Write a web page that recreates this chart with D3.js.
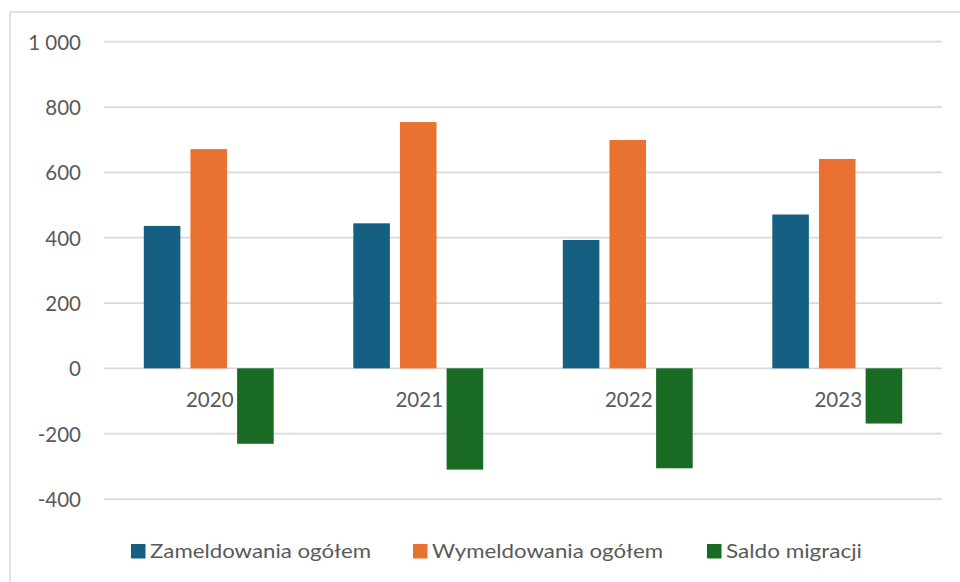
<!DOCTYPE html>
<html>
<head>
<meta charset="utf-8">
<script src="https://cdn.jsdelivr.net/npm/d3@7"></script>
<style>
  body { margin: 0; background: #fff; }
  svg text { font-family: Lato, "Open Sans", sans-serif; fill: #595959; }
</style>
</head>
<body>
<div id="viz"></div>
<script>
// data
var years = ["2020", "2021", "2022", "2023"];
var seriesNames = ["Zameldowania ogółem", "Wymeldowania ogółem", "Saldo migracji"];
var zameldowania = [436, 444, 393, 471];
var wymeldowania = [671, 754, 699, 641];
var saldo = [-231, -310, -306, -169];
var yTicks = [-400, -200, 0, 200, 400, 600, 800, 1000];

var colors = ["#156082", "#E97132", "#196B24"];
var seriesValues = [zameldowania, wymeldowania, saldo];

var width = 960, height = 582;
var svg = d3.select("#viz").append("svg")
  .attr("width", width)
  .attr("height", height);

// chart frame (only top and left edges visible)
svg.append("path")
  .attr("d", "M10,582 L10,12 L960,12")
  .attr("fill", "none")
  .attr("stroke", "#D9D9D9")
  .attr("stroke-width", 1.5);

var y = d3.scaleLinear().domain([-400, 1000]).range([499, 41.7]);
var x0 = d3.scaleBand().domain(years).range([104, 942])
  .paddingInner(0.38).paddingOuter(0.19);
var x1 = d3.scaleBand().domain(d3.range(3)).range([0, x0.bandwidth()])
  .paddingInner(0.216);

// gridlines
svg.append("g").selectAll("line")
  .data(yTicks)
  .join("line")
  .attr("x1", 104).attr("x2", 942)
  .attr("y1", function (d) { return y(d); })
  .attr("y2", function (d) { return y(d); })
  .attr("stroke", "#D9D9D9")
  .attr("stroke-width", 1.75);

// y labels, space as thousands separator, plain hyphen for minus
var fmt = function (d) {
  return d3.format(",")(d).replace(",", " ").replace("\u2212", "-");
};
svg.append("g").selectAll("text")
  .data(yTicks)
  .join("text")
  .attr("x", 81)
  .attr("y", function (d) { return y(d) + 8; })
  .attr("text-anchor", "end")
  .style("font-size", "20.5px")
  .text(fmt);

// category labels
svg.append("g").selectAll("text")
  .data(years)
  .join("text")
  .attr("x", function (d) { return x0(d) + x0.bandwidth() / 2 + 1; })
  .attr("y", y(0) + 39)
  .attr("text-anchor", "middle")
  .style("font-size", "20.5px")
  .text(function (d) { return d; });

// bars
var rows = [];
years.forEach(function (yr, i) {
  seriesValues.forEach(function (vals, s) {
    rows.push({ year: yr, s: s, v: vals[i] });
  });
});

svg.append("g").selectAll("rect")
  .data(rows)
  .join("rect")
  .attr("x", function (d) { return x0(d.year) + x1(d.s); })
  .attr("width", x1.bandwidth())
  .attr("y", function (d) { return y(Math.max(0, d.v)); })
  .attr("height", function (d) { return Math.abs(y(d.v) - y(0)); })
  .attr("fill", function (d) { return colors[d.s]; });

// legend (text fitted to the widths of the original font)
var legendX = [131, 413, 707];
var legendW = [221, 231, 136];
var leg = svg.append("g").selectAll("g")
  .data(seriesNames)
  .join("g")
  .attr("transform", function (d, i) { return "translate(" + legendX[i] + ",0)"; });
leg.append("rect")
  .attr("x", 0).attr("y", 544)
  .attr("width", 14.5).attr("height", 14.5)
  .attr("fill", function (d, i) { return colors[i]; });
leg.append("text")
  .attr("x", 19)
  .attr("y", 558)
  .attr("textLength", function (d, i) { return legendW[i]; })
  .attr("lengthAdjust", "spacingAndGlyphs")
  .style("font-size", "20px")
  .text(function (d) { return d; });
</script>
</body>
</html>
